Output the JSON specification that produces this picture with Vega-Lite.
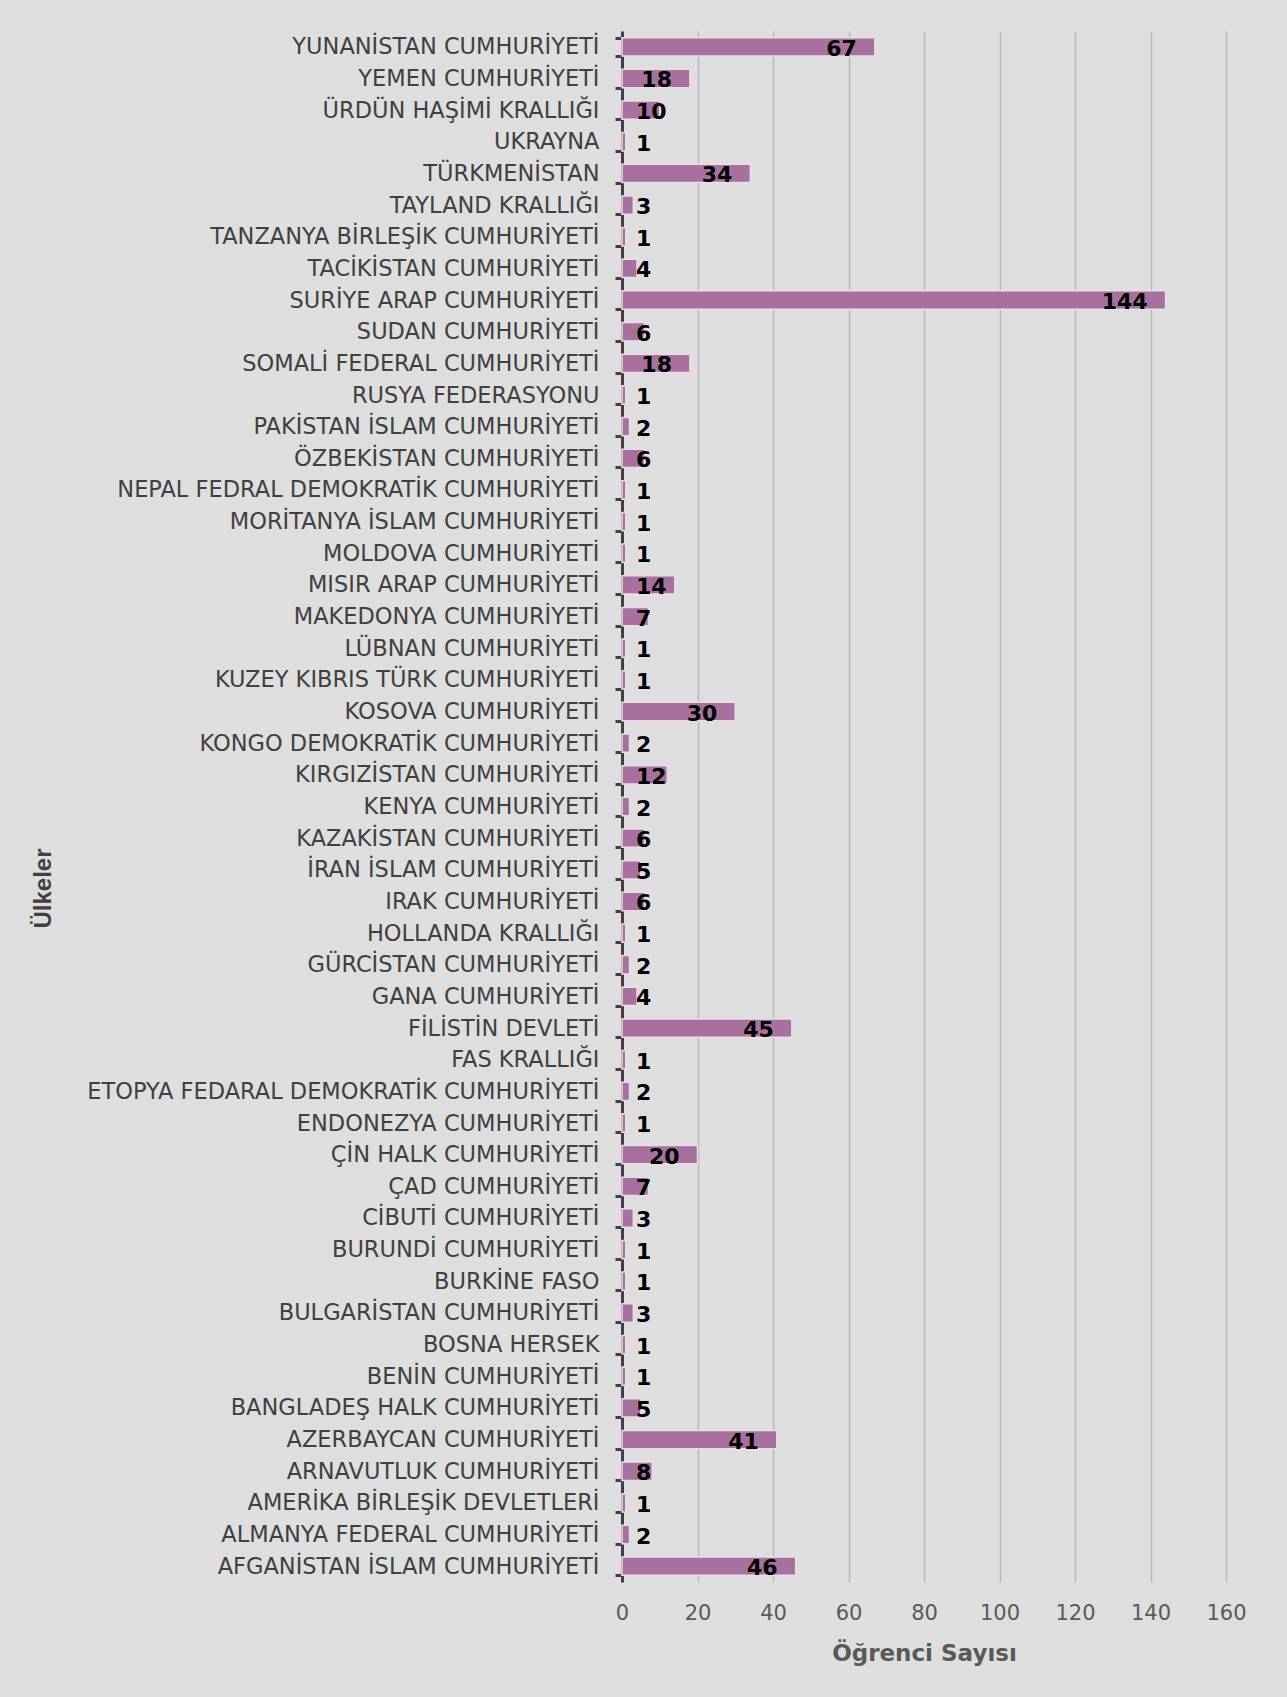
{
  "$schema": "https://vega.github.io/schema/vega-lite/v6.json",
  "width": 604,
  "height": 1551,
  "autosize": {"type": "none"},
  "padding": {"left": 622, "top": 31, "right": 61, "bottom": 115},
  "background": "#dedede",
  "config": {
    "view": {"stroke": null},
    "axis": {"labelFont": "DejaVu Sans", "titleFont": "DejaVu Sans"}
  },
  "data": {
    "values": [
      {"ulke": "YUNANİSTAN CUMHURİYETİ", "sayi": 67},
      {"ulke": "YEMEN CUMHURİYETİ", "sayi": 18},
      {"ulke": "ÜRDÜN HAŞİMİ KRALLIĞI", "sayi": 10},
      {"ulke": "UKRAYNA", "sayi": 1},
      {"ulke": "TÜRKMENİSTAN", "sayi": 34},
      {"ulke": "TAYLAND KRALLIĞI", "sayi": 3},
      {"ulke": "TANZANYA BİRLEŞİK CUMHURİYETİ", "sayi": 1},
      {"ulke": "TACİKİSTAN CUMHURİYETİ", "sayi": 4},
      {"ulke": "SURİYE ARAP CUMHURİYETİ", "sayi": 144},
      {"ulke": "SUDAN CUMHURİYETİ", "sayi": 6},
      {"ulke": "SOMALİ FEDERAL CUMHURİYETİ", "sayi": 18},
      {"ulke": "RUSYA FEDERASYONU", "sayi": 1},
      {"ulke": "PAKİSTAN İSLAM CUMHURİYETİ", "sayi": 2},
      {"ulke": "ÖZBEKİSTAN CUMHURİYETİ", "sayi": 6},
      {"ulke": "NEPAL FEDRAL DEMOKRATİK CUMHURİYETİ", "sayi": 1},
      {"ulke": "MORİTANYA İSLAM CUMHURİYETİ", "sayi": 1},
      {"ulke": "MOLDOVA CUMHURİYETİ", "sayi": 1},
      {"ulke": "MISIR ARAP CUMHURİYETİ", "sayi": 14},
      {"ulke": "MAKEDONYA CUMHURİYETİ", "sayi": 7},
      {"ulke": "LÜBNAN CUMHURİYETİ", "sayi": 1},
      {"ulke": "KUZEY KIBRIS TÜRK CUMHURİYETİ", "sayi": 1},
      {"ulke": "KOSOVA CUMHURİYETİ", "sayi": 30},
      {"ulke": "KONGO DEMOKRATİK CUMHURİYETİ", "sayi": 2},
      {"ulke": "KIRGIZİSTAN CUMHURİYETİ", "sayi": 12},
      {"ulke": "KENYA CUMHURİYETİ", "sayi": 2},
      {"ulke": "KAZAKİSTAN CUMHURİYETİ", "sayi": 6},
      {"ulke": "İRAN İSLAM CUMHURİYETİ", "sayi": 5},
      {"ulke": "IRAK CUMHURİYETİ", "sayi": 6},
      {"ulke": "HOLLANDA KRALLIĞI", "sayi": 1},
      {"ulke": "GÜRCİSTAN CUMHURİYETİ", "sayi": 2},
      {"ulke": "GANA CUMHURİYETİ", "sayi": 4},
      {"ulke": "FİLİSTİN DEVLETİ", "sayi": 45},
      {"ulke": "FAS KRALLIĞI", "sayi": 1},
      {"ulke": "ETOPYA FEDARAL DEMOKRATİK CUMHURİYETİ", "sayi": 2},
      {"ulke": "ENDONEZYA CUMHURİYETİ", "sayi": 1},
      {"ulke": "ÇİN HALK CUMHURİYETİ", "sayi": 20},
      {"ulke": "ÇAD CUMHURİYETİ", "sayi": 7},
      {"ulke": "CİBUTİ CUMHURİYETİ", "sayi": 3},
      {"ulke": "BURUNDİ CUMHURİYETİ", "sayi": 1},
      {"ulke": "BURKİNE FASO", "sayi": 1},
      {"ulke": "BULGARİSTAN CUMHURİYETİ", "sayi": 3},
      {"ulke": "BOSNA HERSEK", "sayi": 1},
      {"ulke": "BENİN CUMHURİYETİ", "sayi": 1},
      {"ulke": "BANGLADEŞ HALK CUMHURİYETİ", "sayi": 5},
      {"ulke": "AZERBAYCAN CUMHURİYETİ", "sayi": 41},
      {"ulke": "ARNAVUTLUK CUMHURİYETİ", "sayi": 8},
      {"ulke": "AMERİKA BİRLEŞİK DEVLETLERİ", "sayi": 1},
      {"ulke": "ALMANYA FEDERAL CUMHURİYETİ", "sayi": 2},
      {"ulke": "AFGANİSTAN İSLAM CUMHURİYETİ", "sayi": 46}
    ]
  },
  "encoding": {
    "y": {
      "field": "ulke",
      "type": "nominal",
      "sort": null,
      "scale": {"paddingInner": 0.42, "paddingOuter": 0.21},
      "axis": {
        "title": "Ülkeler",
        "titleFont": "Liberation Sans",
        "titleFontSize": 24,
        "titleFontWeight": "bold",
        "titleColor": "#404040",
        "titleAngle": -90,
        "titleX": -579,
        "titleY": 857,
        "titleAlign": "center",
        "titleBaseline": "middle",
        "labelFontSize": 22.5,
        "labelColor": "#404040",
        "labelPadding": 16,
        "labelLimit": 600,
        "domainColor": "#404040",
        "domainWidth": 3,
        "tickColor": "#404040",
        "tickWidth": 3,
        "tickSize": 7,
        "tickBand": "extent",
        "grid": false
      }
    },
    "x": {
      "field": "sayi",
      "type": "quantitative",
      "scale": {"domain": [0, 160], "nice": false},
      "axis": {
        "title": "Öğrenci Sayısı",
        "titleFontSize": 23,
        "titleFontWeight": "bold",
        "titleColor": "#595959",
        "titleY": 71,
        "titleBaseline": "middle",
        "values": [0, 20, 40, 60, 80, 100, 120, 140, 160],
        "labelFontSize": 21,
        "labelColor": "#595959",
        "labelPadding": 20,
        "labelFlush": false,
        "labelBound": false,
        "domain": false,
        "ticks": false,
        "grid": true,
        "gridColor": "#b8b8b8",
        "gridWidth": 1.5
      }
    }
  },
  "layer": [
    {
      "mark": {"type": "bar", "fill": "#a7709f", "stroke": "#ecdcea", "strokeWidth": 1.5}
    },
    {
      "transform": [{"filter": "datum.sayi >= 15"}],
      "mark": {"type": "text", "align": "right", "baseline": "middle", "dx": -18, "dy": 2, "font": "DejaVu Sans", "fontWeight": "bold", "fontSize": 22, "color": "#000000"},
      "encoding": {"text": {"field": "sayi", "type": "quantitative"}}
    },
    {
      "transform": [{"filter": "datum.sayi < 15"}],
      "mark": {"type": "text", "align": "left", "baseline": "middle", "dx": 14, "dy": 2, "font": "DejaVu Sans", "fontWeight": "bold", "fontSize": 22, "color": "#000000"},
      "encoding": {
        "x": {"datum": 0, "type": "quantitative"},
        "text": {"field": "sayi", "type": "quantitative"}
      }
    }
  ]
}
